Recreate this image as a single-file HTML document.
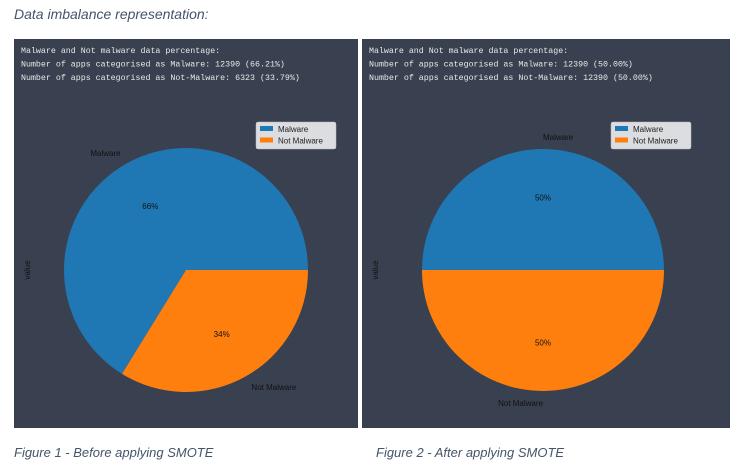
<!DOCTYPE html>
<html><head><meta charset="utf-8"><style>
body{margin:0;width:746px;height:468px;background:#fff;position:relative;overflow:hidden;font-family:"Liberation Sans",sans-serif}
.t{position:absolute;font-style:italic;color:#44546a;font-size:13px}
svg{position:absolute;left:0;top:0}
</style></head><body>
<div class="t" style="left:14px;top:6px;font-size:14px">Data imbalance representation:</div>
<div class="t" style="left:14px;top:445px">Figure 1 - Before applying SMOTE</div>
<div class="t" style="left:376px;top:445px">Figure 2 - After applying SMOTE</div>
<svg id="s" width="746" height="468"></svg>
<script>
const categories = ["Malware", "Not Malware"];
const before = [12390, 6323];
const after = [12390, 12390];
const colors = ["#1f77b4", "#ff7f0e"];
const NS = "http://www.w3.org/2000/svg";
const svg = document.getElementById('s');
function mk(tag, attrs, parent){const e=document.createElementNS(NS,tag);for(const k in attrs)e.setAttribute(k,attrs[k]);(parent||svg).appendChild(e);return e;}
function panel(px, pw, cx, cy, r, vals, name, lx){
  const g = mk('g',{});
  
  
  const bg = mk('rect',{x:px,y:39,width:pw,height:389,fill:'#394150'},g);
  
  
  const total = vals.reduce((a,b)=>a+b,0);
  const lines = ["Malware and Not malware data percentage:",
    "Number of apps categorised as Malware: "+vals[0]+" ("+(vals[0]/total*100).toFixed(2)+"%)",
    "Number of apps categorised as Not-Malware: "+vals[1]+" ("+(vals[1]/total*100).toFixed(2)+"%)"];
  lines.forEach((l,i)=>{
    const t = mk('text',{x:px+7,y:53+i*13.5,fill:'#e8e8e8','font-family':'Liberation Mono, monospace','font-size':'8.3px'},g);
    t.textContent = l;
    
    
  });
  const yl = mk('text',{x:px+16,y:cy,fill:'#111','font-size':'8px','text-anchor':'middle',transform:'rotate(-90 '+(px+16)+' '+cy+')'},g);
  yl.textContent='value';
  
  
  let a0 = 0;
  vals.forEach((v,i)=>{
    const a1 = a0 + v/total*2*Math.PI;
    const x0=cx+r*Math.cos(a0), y0=cy-r*Math.sin(a0), x1=cx+r*Math.cos(a1), y1=cy-r*Math.sin(a1);
    const large = (a1-a0)>Math.PI?1:0;
    const p = mk('path',{d:`M${cx},${cy} L${x0},${y0} A${r},${r} 0 ${large} 0 ${x1},${y1} Z`,fill:colors[i]},g);
    
    
    const m=(a0+a1)/2, c=Math.cos(m), s=Math.sin(m);
    const lb = mk('text',{x:cx+1.1*r*c,y:cy-1.1*r*s+3,fill:'#111','font-size':'8px','text-anchor':c>=0?'start':'end'},g);
    lb.textContent = categories[i];
    
    
    const pc = mk('text',{x:cx+0.6*r*c,y:cy-0.6*r*s+3,fill:'#111','font-size':'8px','text-anchor':'middle'},g);
    pc.textContent = Math.round(v/total*100)+'%';
    
    
    a0 = a1;
  });
  const ly=122;
  const lg = mk('g',{},g);
  
  
  mk('rect',{x:lx,y:ly,width:80,height:27,fill:'#dcdde0',stroke:'#bbb','stroke-width':0.5,rx:2},lg);
  categories.forEach((c,i)=>{
    mk('rect',{x:lx+4,y:ly+4+i*11.5,width:13,height:5,fill:colors[i]},lg);
    const t = mk('text',{x:lx+22,y:ly+10+i*11.5,fill:'#222','font-size':'8px'},lg);
    t.textContent=c;
    
    
  });
}
panel(14, 344, 186, 270, 122, before, 'pie-before-smote', 256);
panel(362, 368, 543, 270, 121, after, 'pie-after-smote', 611);
</script>
</body></html>
